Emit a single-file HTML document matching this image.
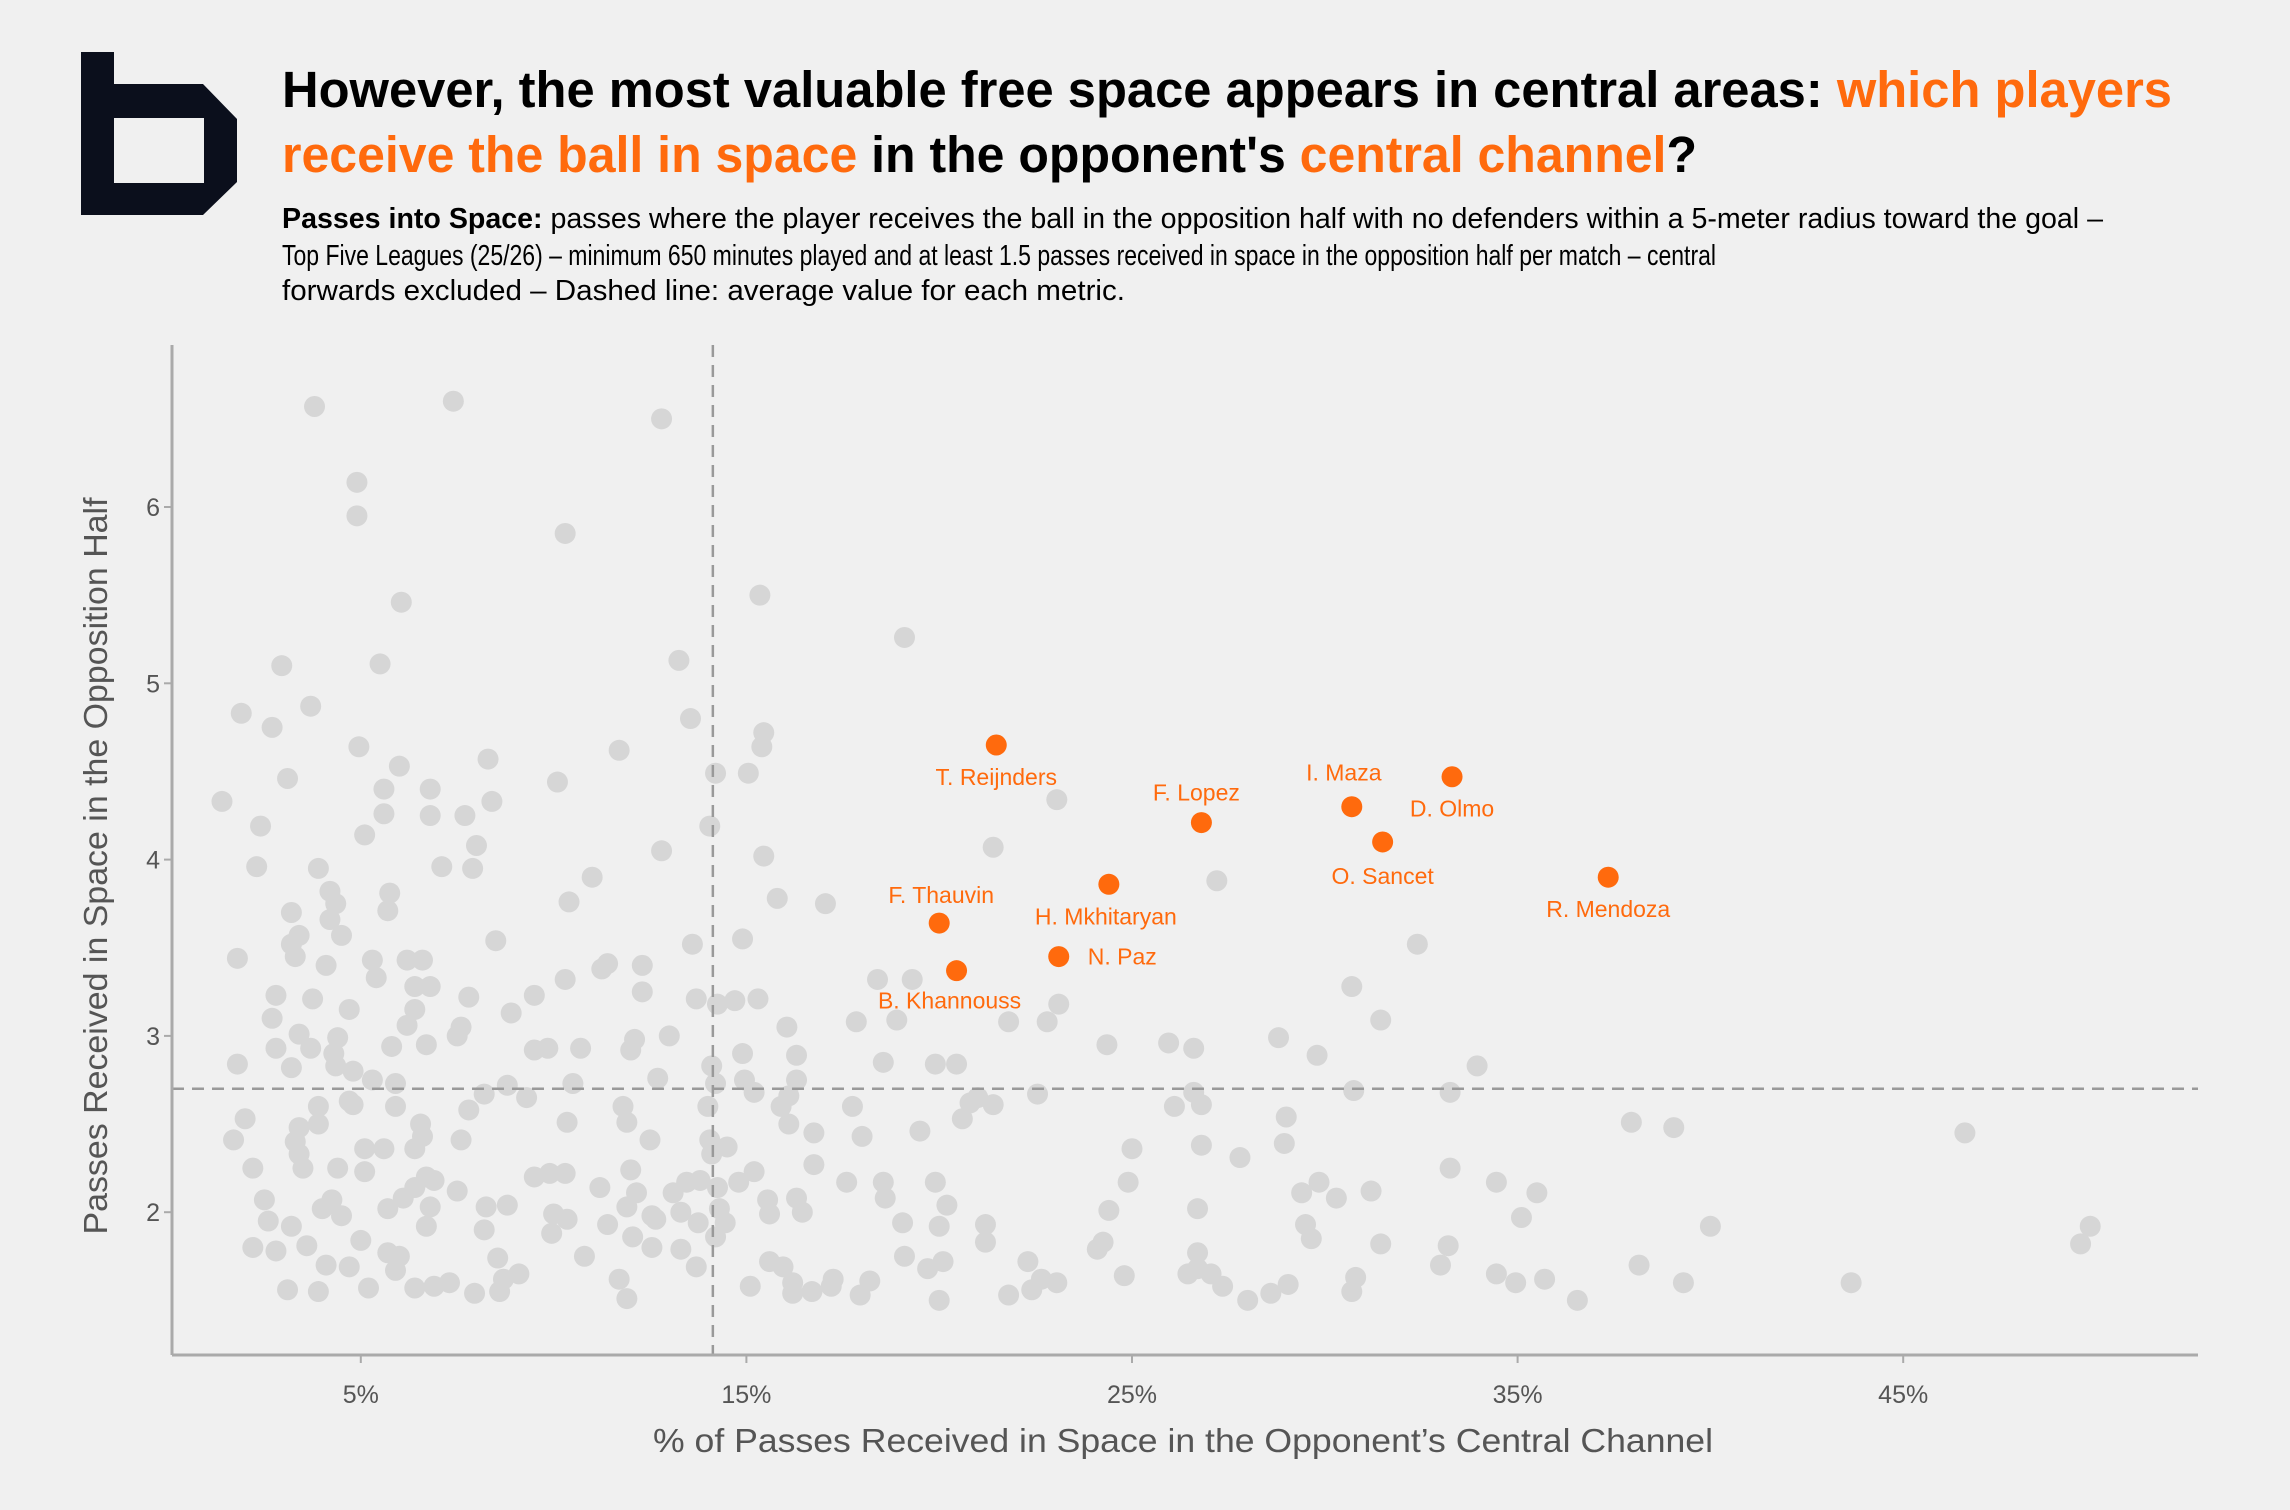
<!DOCTYPE html>
<html><head><meta charset="utf-8"><style>
html,body{margin:0;padding:0;background:#f0f0f0;}
svg{display:block;font-family:"Liberation Sans",sans-serif;}
</style></head><body>
<svg id="chart" width="2290" height="1510" viewBox="0 0 2290 1510">
<rect x="0" y="0" width="2290" height="1510" fill="#f0f0f0"/>
<path fill="#0b0f1c" fill-rule="evenodd" d="M81 52 H114 V84 H203 L237 119 V182 L203 215 H81 Z M114 118 V183 H204 V118 Z"/>
<text x="282" y="107" font-size="51" font-weight="bold" textLength="1890" lengthAdjust="spacingAndGlyphs" fill="#000">However, the most valuable free space appears in central areas: <tspan fill="#ff6a0d">which players</tspan></text>
<text x="282" y="172" font-size="51" font-weight="bold" textLength="1415" lengthAdjust="spacingAndGlyphs" fill="#000"><tspan fill="#ff6a0d">receive the ball in space</tspan> in the opponent's <tspan fill="#ff6a0d">central channel</tspan>?</text>
<text x="282" y="228" font-size="29" textLength="1821" lengthAdjust="spacingAndGlyphs" fill="#000"><tspan font-weight="bold">Passes into Space:</tspan> passes where the player receives the ball in the opposition half with no defenders within a 5-meter radius toward the goal –</text>
<text x="282" y="265" font-size="29" textLength="1434" lengthAdjust="spacingAndGlyphs" fill="#000">Top Five Leagues (25/26) – minimum 650 minutes played and at least 1.5 passes received in space in the opposition half per match – central</text>
<text x="282" y="300" font-size="29" textLength="843" lengthAdjust="spacingAndGlyphs" fill="#000">forwards excluded – Dashed line: average value for each metric.</text>
<g id="plot"></g>
<text x="1183" y="1452" font-size="33" text-anchor="middle" fill="#555" textLength="1060" lengthAdjust="spacingAndGlyphs">% of Passes Received in Space in the Opponent’s Central Channel</text>
<text transform="translate(107,866) rotate(-90)" x="0" y="0" font-size="33" text-anchor="middle" fill="#555" textLength="737" lengthAdjust="spacingAndGlyphs">Passes Received in Space in the Opposition Half</text>
</svg>
<script>
const greyX=[1.4,1.8,1.8,1.7,2.0,1.9,2.2,2.4,2.3,2.2,2.5,2.6,2.7,2.95,3.1,2.7,2.8,2.8,3.2,3.2,3.3,3.4,3.2,3.4,3.3,3.4,3.5,3.4,3.1,2.8,3.6,3.2,3.8,3.7,3.9,3.75,3.7,4.0,3.9,3.9,3.9,4.1,4.2,4.2,4.35,4.5,4.3,4.4,4.35,4.4,4.25,4.5,4.1,4.7,4.7,4.8,4.8,4.9,4.9,4.95,5.1,4.7,5.1,5.1,5.2,5.0,5.3,5.3,5.4,5.5,5.6,5.6,5.75,5.7,5.6,5.7,5.7,5.8,5.9,5.9,6.0,6.05,6.2,6.4,6.4,6.2,6.1,6.0,5.9,6.4,6.4,6.4,6.55,6.6,6.6,6.7,6.8,6.8,6.8,6.7,6.9,6.8,6.7,7.1,6.9,7.4,7.3,7.5,7.6,7.5,7.6,7.7,8.0,7.9,7.8,7.8,7.95,8.2,8.4,8.3,8.5,8.2,8.25,8.55,8.7,8.8,8.8,8.9,8.6,9.1,9.3,9.5,9.5,9.5,9.85,9.9,9.95,10.0,10.1,10.3,10.3,10.35,10.35,10.4,10.3,10.7,10.5,10.8,11.0,11.25,11.4,11.2,11.4,11.7,11.8,11.9,12.0,12.1,11.7,11.9,12.0,11.9,12.05,12.15,12.3,12.3,12.5,12.55,12.55,12.65,12.8,12.8,12.7,13.0,13.1,13.25,13.3,13.3,13.45,13.55,13.6,13.7,13.75,13.7,13.8,14.05,14.1,14.0,14.05,14.1,14.2,14.25,14.2,14.25,14.3,14.45,14.5,14.2,14.7,14.8,14.9,14.9,14.95,15.05,15.2,15.35,15.4,15.45,15.3,15.2,15.1,15.45,15.55,15.6,15.8,15.6,15.9,15.95,16.05,16.1,16.1,16.3,16.3,16.2,16.2,16.3,16.45,16.75,16.75,16.7,17.05,17.2,17.25,17.6,17.85,17.75,18.0,17.95,18.2,18.4,18.55,18.55,18.6,18.9,19.05,19.1,19.1,19.3,19.5,19.7,19.9,19.9,20.0,20.0,20.1,20.2,20.45,20.6,20.8,21.0,21.2,21.2,21.4,21.4,21.8,21.8,22.3,22.4,22.55,22.65,22.8,23.05,23.05,23.1,24.1,24.25,24.35,24.4,24.8,24.9,25.0,25.95,26.1,26.45,26.6,26.7,26.7,26.6,26.7,26.8,26.8,27.05,27.2,27.35,27.8,28.0,28.6,28.8,28.95,29.0,29.05,29.4,29.5,29.65,29.8,29.85,30.3,30.7,30.75,30.7,30.8,31.2,31.45,31.45,32.4,33.0,33.2,33.25,33.25,33.95,34.45,34.45,34.95,35.1,35.5,35.7,36.55,37.95,38.15,39.05,39.3,40.0,43.65,46.6,49.6,49.85];
const greyY=[4.33,3.44,2.84,2.41,2.53,4.83,2.25,4.19,3.96,1.8,2.07,1.95,4.75,5.1,4.46,3.1,2.93,3.23,3.70,3.52,3.45,3.57,2.82,3.01,2.4,2.48,2.25,2.33,1.56,1.78,1.81,1.92,6.57,4.87,3.95,3.21,2.93,2.02,1.55,2.6,2.5,3.4,3.82,3.66,3.75,3.57,2.9,2.99,2.83,2.25,2.07,1.98,1.7,1.69,2.63,2.61,2.8,6.14,5.95,4.64,4.14,3.15,2.36,2.23,1.57,1.84,2.75,3.43,3.33,5.11,4.4,4.26,3.81,3.71,2.36,2.02,1.77,2.94,2.73,2.6,4.53,5.46,3.43,3.28,3.15,3.06,2.08,1.75,1.67,1.57,2.36,2.14,2.5,2.43,3.43,2.95,4.4,4.25,3.28,2.2,2.18,2.03,1.92,3.96,1.58,6.6,1.6,3.0,3.05,2.12,2.41,4.25,4.08,3.95,3.22,2.58,1.54,2.67,4.33,4.57,3.54,1.9,2.03,1.74,1.62,2.72,2.04,3.13,1.55,1.65,2.65,3.23,2.2,2.92,2.93,2.22,1.88,1.99,4.44,5.85,3.32,2.51,1.96,3.76,2.22,2.93,2.73,1.75,3.9,3.38,3.41,2.14,1.93,4.62,2.6,2.51,2.92,2.98,1.62,1.51,2.24,2.03,1.86,2.11,3.4,3.25,2.41,1.98,1.8,1.96,6.5,4.05,2.76,3.0,2.11,5.13,1.79,2.0,2.17,4.8,3.52,3.21,1.94,1.69,2.18,4.19,2.83,2.6,2.41,2.33,4.49,3.18,2.73,2.14,2.02,1.94,2.37,1.86,3.2,2.17,3.55,2.9,2.75,4.49,2.23,5.5,4.64,4.72,3.21,2.68,1.58,4.02,2.07,1.99,3.78,1.72,2.6,1.69,3.05,2.5,2.66,2.89,2.75,1.6,1.54,2.08,2.0,2.45,2.27,1.55,3.75,1.58,1.62,2.17,3.08,2.6,2.43,1.53,1.61,3.32,2.85,2.17,2.08,3.09,1.94,1.75,5.26,3.32,2.46,1.68,2.17,2.84,1.5,1.92,1.72,2.04,2.84,2.53,2.62,2.65,1.93,1.83,2.61,4.07,3.08,1.53,1.72,1.56,2.67,1.62,3.08,4.34,1.6,3.18,1.79,1.83,2.95,2.01,1.64,2.17,2.36,2.96,2.6,1.65,2.93,1.77,1.68,2.68,2.02,2.61,2.38,1.65,3.88,1.58,2.31,1.5,1.54,2.99,2.39,2.54,1.59,2.11,1.93,1.85,2.89,2.17,2.08,3.28,2.69,1.55,1.63,2.12,1.82,3.09,3.52,1.7,1.81,2.68,2.25,2.83,2.17,1.65,1.6,1.97,2.11,1.62,1.5,2.51,1.7,2.48,1.6,1.92,1.6,2.45,1.82,1.92];
const hiNames=["T. Reijnders","F. Lopez","I. Maza","D. Olmo","O. Sancet","R. Mendoza","H. Mkhitaryan","F. Thauvin","N. Paz","B. Khannouss"];
const hiX=[21.48,26.8,30.7,33.3,31.5,37.35,24.4,20.0,23.1,20.45];
const hiY=[4.65,4.21,4.30,4.47,4.10,3.90,3.86,3.64,3.45,3.37];
const xTicks=[5,15,25,35,45];
const xTickLabels=["5%","15%","25%","35%","45%"];
const yTicks=[2,3,4,5,6];
const yTickLabels=["2","3","4","5","6"];
const meanX=14.13, meanY=2.70;
// label placement (layout only)
const labelDX=[0,-5,-8,0,0,0,-3,2,29,-7];
const labelDY=[40,-22,-26,40,42,40,40,-20,8,38];
const labelAnchor=["middle","middle","middle","middle","middle","middle","middle","middle","start","middle"];

const NS="http://www.w3.org/2000/svg";
const X0=172,X1=2198,Y0=1355,Y1=345;
function xS(v){return 168+38.56*v;}
function yS(v){return 1212.2-176.3*(v-2);}
const g=document.getElementById('plot');
function mk(t,a){const e=document.createElementNS(NS,t);for(const k in a)e.setAttribute(k,a[k]);g.appendChild(e);return e;}

for(let i=0;i<greyX.length;i++){
  const c=mk('circle',{cx:xS(greyX[i]),cy:yS(greyY[i]),r:10.5,fill:'#d6d6d6'});
  
  
}
const vl=mk('line',{x1:xS(meanX),x2:xS(meanX),y1:Y1,y2:Y0,stroke:'#999',"stroke-width":2.5,"stroke-dasharray":"12 8"});


const hl=mk('line',{x1:X0,x2:X1,y1:yS(meanY),y2:yS(meanY),stroke:'#999',"stroke-width":2.5,"stroke-dasharray":"12 8"});


for(let i=0;i<hiX.length;i++){
  const cx=xS(hiX[i]),cy=yS(hiY[i]);
  const c=mk('circle',{cx:cx,cy:cy,r:10.5,fill:'#ff6a0d'});
  
  
  const t=mk('text',{x:cx+labelDX[i],y:cy+labelDY[i],"font-size":23,fill:'#ff6a0d',"text-anchor":labelAnchor[i]});
  t.textContent=hiNames[i];
  
  
}
const ya=mk('line',{x1:X0,x2:X0,y1:Y1,y2:Y0,stroke:'#aaa',"stroke-width":3});


const xa=mk('line',{x1:X0,x2:X1,y1:Y0,y2:Y0,stroke:'#aaa',"stroke-width":3});


xTicks.forEach((v,i)=>{
  const tk=mk('line',{x1:xS(v),x2:xS(v),y1:Y0,y2:Y0+8,stroke:'#aaa',"stroke-width":2});
  
  
  const t=mk('text',{x:xS(v),y:1403,"font-size":25,fill:'#555',"text-anchor":"middle"});
  t.textContent=xTickLabels[i];
  
  
});
yTicks.forEach((v,i)=>{
  const tk=mk('line',{x1:X0-8,x2:X0,y1:yS(v),y2:yS(v),stroke:'#aaa',"stroke-width":2});
  
  
  const t=mk('text',{x:160,y:yS(v)+9,"font-size":25,fill:'#555',"text-anchor":"end"});
  t.textContent=yTickLabels[i];
  
  
});
</script>
</body></html>
